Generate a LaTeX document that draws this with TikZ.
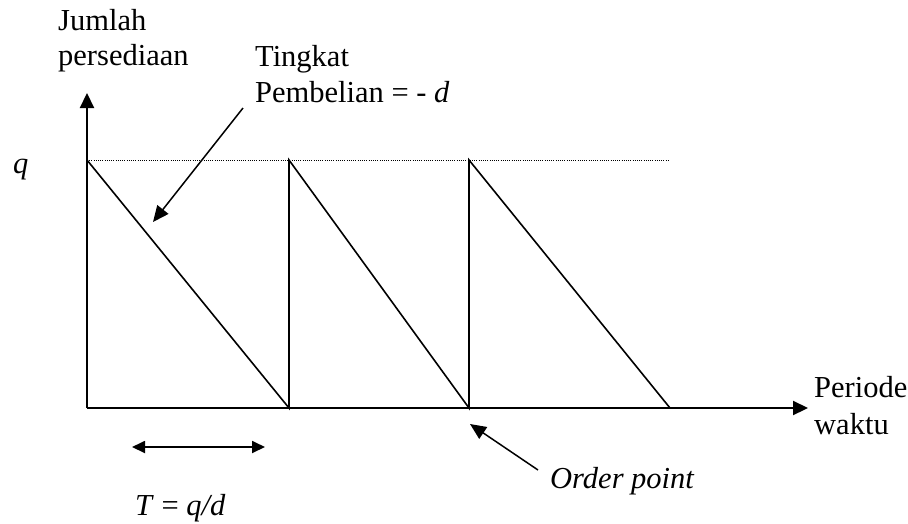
\documentclass[tikz,border=0pt]{standalone}
\usepackage{fontspec}
\setmainfont{Liberation Serif}
\usetikzlibrary{arrows.meta}
\begin{document}
\begin{tikzpicture}[x=1pt,y=-1pt,
  lbl/.style={anchor=base west,inner sep=0pt,font=\fontsize{30.5}{36}\selectfont},
  axis/.style={line width=2.2pt,-{Triangle[length=15pt,width=14pt]}},
  saw/.style={line width=1.6pt},
  ptr/.style={line width=1.5pt,-{Triangle[length=16pt,width=14pt]}},
  dbl/.style={line width=1.8pt,{Triangle[length=13pt,width=12pt]}-{Triangle[length=13pt,width=12pt]}},
  qline/.style={line width=1pt,dash pattern=on 1pt off 1.2pt}]
\useasboundingbox (0,0) rectangle (908,523);
% axes
\coordinate (O) at (87,408);
\coordinate (ytop) at (87,93);
\coordinate (xend) at (808,408);
\draw[axis] (O) -- (ytop);
\draw[axis] (O) -- (xend);
% q level
\coordinate (q0) at (87,160);
\coordinate (qend) at (670,160);
\draw[qline] (q0) -- (qend);
% sawtooth
\coordinate (a1) at (289,408); \coordinate (t1) at (289,160);
\coordinate (a2) at (469,408); \coordinate (t2) at (469,160);
\coordinate (a3) at (670,408);
\draw[saw] (q0) -- (a1) -- (t1) -- (a2) -- (t2) -- (a3);
% labels
\node[lbl] (jumlah) at (58,30) {Jumlah};
\node[lbl] (persed) at (58,65) {persediaan};
\node[lbl] (tingkat) at (255,66) {Tingkat};
\node[lbl] (pembel) at (255,102) {Pembelian = - \textit{d}};
\node[lbl] (qlab) at (13,173) {\textit{q}};
\node[lbl] (periode) at (814,397) {Periode};
\node[lbl] (waktu) at (814,434) {waktu};
\node[lbl] (order) at (550,488) {\textit{Order point}};
\node[lbl] (tlab) at (135,515) {\textit{T} = \textit{q/d}};
% pointers
\coordinate (p1s) at (243,108); \coordinate (p1e) at (153,222);
\draw[ptr] (p1s) -- (p1e);
\coordinate (p2s) at (538,470); \coordinate (p2e) at (470,424);
\draw[ptr] (p2s) -- (p2e);
\coordinate (d1) at (132,447); \coordinate (d2) at (265,447);
\draw[dbl] (d1) -- (d2);
\end{tikzpicture}
\end{document}
